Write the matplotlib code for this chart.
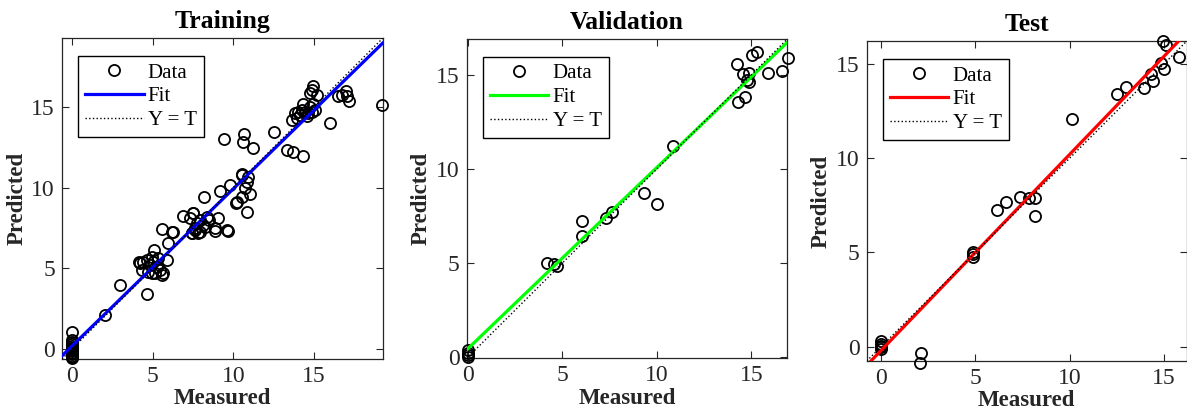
import matplotlib.pyplot as plt
import numpy as np

plt.rcParams['font.family'] = ['Liberation Serif', 'DejaVu Serif']

# Training data (measured, predicted)
train_x = [0, 0, 0, 0, 0, 0, 0, 0, 0, 0, 0, 0, 0, 0, 0, 0,
           2.06, 2.99, 4.64, 4.19, 4.22, 4.43, 4.64, 4.84, 5.05, 5.26, 5.46, 5.67,
           4.33, 4.74, 5.15, 5.88, 4.95, 5.36, 5.57, 6.19, 5.98, 5.09, 5.57, 4.95,
           6.87, 7.32, 7.52, 7.93, 8.14, 7.62, 7.83, 7.42, 7.73, 8.35, 8.19, 9.18,
           9.69, 9.07, 8.87, 8.52, 7.53, 7.42, 7.94, 6.28, 8.24, 8.86, 9.59, 7.62,
           9.79, 10.16, 10.56, 10.87, 11.03, 10.82, 10.93, 10.51, 10.72, 10.51, 10.2,
           9.42, 10.68, 10.58, 11.24, 12.52, 13.3, 13.67, 14.29, 15.98,
           13.6, 13.81, 14.01, 14.22, 14.43, 14.63, 14.84, 15.04, 14.32, 14.53,
           13.92, 14.12, 14.74, 14.94, 14.94, 14.84, 15.15, 14.74,
           16.7, 16.96, 17.0, 17.17, 16.49, 19.2]
train_y = [1.1, 0.6, 0.45, 0.3, 0.2, 0.1, 0.05, 0, -0.05, -0.1, -0.2, -0.25, -0.3, -0.4, -0.5, -0.55,
           2.11, 3.97, 3.45, 5.41, 5.31, 5.41, 5.52, 5.21, 5.41, 5.1, 4.9, 4.69,
           4.9, 4.79, 4.69, 5.52, 5.72, 5.62, 7.44, 7.23, 6.55, 6.14, 4.59, 4.69,
           8.24, 8.1, 8.41, 8.0, 7.69, 7.48, 7.17, 7.17, 7.79, 8.2, 9.44, 9.81,
           7.33, 8.1, 7.33, 8.0, 8.41, 7.17, 7.27, 7.27, 7.58, 7.48, 7.38, 7.38,
           10.16, 9.07, 10.79, 8.47, 9.59, 10.37, 10.68, 9.44, 9.96, 10.83, 9.13,
           13.02, 13.33, 12.85, 12.44, 13.43, 12.33, 12.23, 11.98, 13.99,
           14.2, 14.6, 14.7, 14.8, 14.7, 14.6, 14.7, 14.8, 15.2, 14.4,
           14.3, 14.5, 15.0, 15.2, 16.26, 16.06, 15.75, 15.85,
           15.75, 15.95, 15.64, 15.33, 15.68, 15.1]

# Validation data
val_x = [0, 0, 0, 0, 4.18, 4.58, 4.71, 6.03, 6.03, 7.32, 7.65, 9.34, 10.03, 10.88,
         14.23, 14.29, 14.67, 14.58, 14.85, 14.76, 14.85, 15.03, 15.29, 15.9, 16.64, 16.93]
val_y = [0.4, 0.25, 0.1, 0.0, 5.03, 4.94, 4.85, 7.23, 6.43, 7.41, 7.72, 8.73, 8.16, 11.2,
         15.57, 13.57, 13.84, 15.03, 15.08, 14.72, 14.63, 16.05, 16.22, 15.11, 15.2, 15.87]

# Test data
test_x = [0, 0, 0, 0, 0, 2.12, 2.07, 4.86, 4.86, 4.86, 6.13, 6.62, 7.37, 7.86, 8.16, 8.16,
          10.1, 12.49, 12.98, 13.94, 14.4, 14.29, 14.82, 15.0, 14.96, 15.1, 15.81]
test_y = [0.3, 0.15, 0.05, 0.0, -0.1, -0.35, -0.85, 5.0, 4.9, 4.78, 7.22, 7.69, 7.96, 7.87, 7.87, 6.93,
          12.08, 13.41, 13.76, 13.71, 14.1, 14.47, 15.03, 14.73, 16.18, 16.0, 15.38]

# Fit lines (slope, intercept) and axis limits
fits = [(0.975, 0.18), (0.963, 0.45), (1.04, -0.2)]
limits = [(-0.6, 19.25), (-0.05, 16.9), (-0.76, 16.2)]
titles = ['Training', 'Validation', 'Test']
fit_colors = ['#0000ff', '#00ff00', '#ff0000']

positions = [
    [0.0522, 0.137, 0.2704, 0.7716],
    [0.3932, 0.1387, 0.2701, 0.7675],
    [0.7302, 0.1322, 0.2696, 0.769],
]

data = [(train_x, train_y), (val_x, val_y), (test_x, test_y)]
edge = '#262626'

fig = plt.figure(figsize=(11.87, 4.16), dpi=100)

for k in range(3):
    ax = fig.add_axes(positions[k])
    x, y = data[k]
    lo, hi = limits[k]
    m, c = fits[k]
    xs = np.array([lo, hi])

    ax.plot(x, y, 'o', mfc='none', mec='black', ms=8, mew=1.3,
            label='Data', clip_on=False, zorder=3)
    ax.plot(xs, m * xs + c, color=fit_colors[k], lw=2.3, label='Fit', zorder=4)
    ax.plot(xs, xs, ':', color='black', lw=1.0, label='Y = T', zorder=5)

    ax.set_xlim(lo, hi)
    ax.set_ylim(lo, hi)
    ax.set_xticks([0, 5, 10, 15])
    ax.set_yticks([0, 5, 10, 15])
    ax.tick_params(direction='in', top=True, right=True, length=5, width=0.8,
                   labelsize=17, colors=edge, labelcolor=edge, pad=5)
    for s in ax.spines.values():
        s.set_color(edge)
        s.set_linewidth(0.9)

    ax.set_title(titles[k], fontsize=18.5, fontweight='bold', pad=7)
    ax.set_xlabel('Measured', fontsize=16.5, fontweight='bold', color=edge, labelpad=1)
    ax.set_ylabel('Predicted', fontsize=16.5, fontweight='bold', color=edge, labelpad=3)

    # legend box sits near the top-left corner
    leg = ax.legend(loc='upper left', bbox_to_anchor=(0.05, 0.945), fontsize=15,
                    fancybox=False, framealpha=1, edgecolor='black',
                    handlelength=2.8, handletextpad=0.2, labelspacing=0.2,
                    borderpad=0.35, borderaxespad=0)
    leg.get_frame().set_linewidth(1.0)

plt.savefig('out.png', dpi=100)
plt.close()
